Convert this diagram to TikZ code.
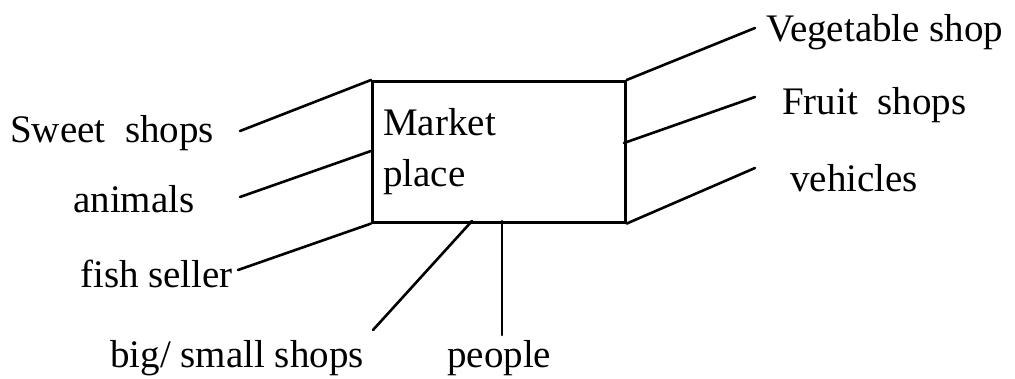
\documentclass[tikz,border=0pt]{standalone}
\usepackage{fontspec}
\setmainfont{Liberation Serif}
\begin{document}
\begin{tikzpicture}[x=1pt,y=-1pt,
  lbl/.style={anchor=base west, inner sep=0pt, font=\fontsize{39}{51}\selectfont},
  conn/.style={line width=2.6pt, line cap=round},
  mbox/.style={draw, line width=2.6pt, minimum width=253pt, minimum height=141pt,
     inner xsep=11pt, inner ysep=0pt, text width=231pt, align=left,
     font=\fontsize{39}{51}\selectfont}]
\useasboundingbox (0,0) rectangle (1015,379);
\node[mbox, anchor=north west] (box) at (371,80) {Market\\place};
% labels
\node[lbl] (sweet) at (10,143) {Sweet\hspace{0.5em}shops};
\node[lbl] (anim) at (73,213) {animals};
\node[lbl] (fish) at (80,288) {fish seller};
\node[lbl] (big) at (110,367) {big/ small shops};
\node[lbl] (people) at (447,367) {people};
\node[lbl] (veg) at (766,42) {Vegetable shop};
\node[lbl] (fruit) at (782,115) {Fruit\hspace{0.5em}shops};
\node[lbl] (veh) at (790,192) {vehicles};
% connector ends
\coordinate (sweetE) at (240,131);
\coordinate (animE) at (240,197);
\coordinate (fishE) at (238,270);
\coordinate (bigE) at (373,330);
\coordinate (peopleE) at (502,335);
\coordinate (vegE) at (755,28);
\coordinate (fruitE) at (755,97);
\coordinate (vehE) at (755,168);
% box attachment points
\coordinate (bL1) at (box.north west);
\coordinate (bL2) at (371,151);
\coordinate (bL3) at (box.south west);
\coordinate (bB1) at (472,221);
\coordinate (bB2) at (502,221);
\coordinate (bR1) at (box.north east);
\coordinate (bR2) at (624,143);
\coordinate (bR3) at (box.south east);
\draw[conn] (sweetE) -- (bL1);
\draw[conn] (animE) -- (bL2);
\draw[conn] (fishE) -- (bL3);
\draw[conn] (bigE) -- (bB1);
\draw[conn] (peopleE) -- (bB2);
\draw[conn] (vegE) -- (bR1);
\draw[conn] (fruitE) -- (bR2);
\draw[conn] (vehE) -- (bR3);
\end{tikzpicture}
\end{document}
